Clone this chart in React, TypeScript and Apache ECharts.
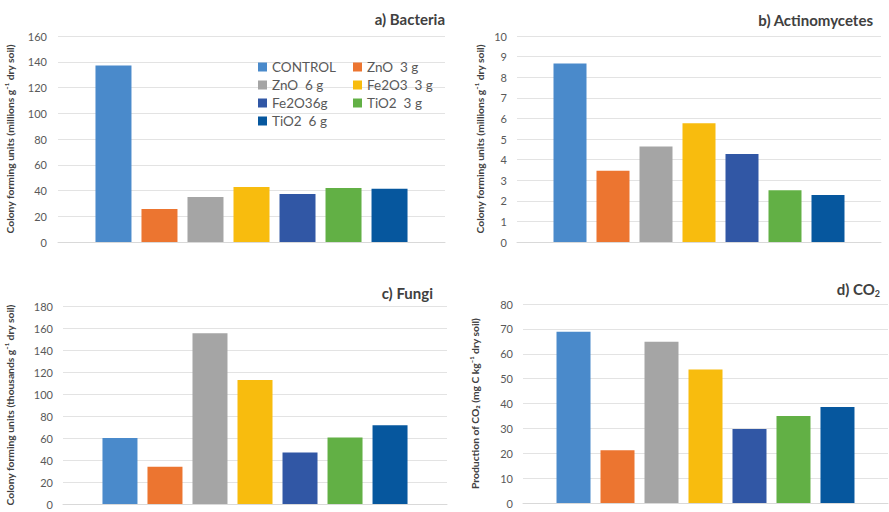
import React, { useEffect, useRef } from "react";
import * as echarts from "echarts";

const seriesNames = ["CONTROL", "ZnO  3 g", "ZnO  6 g", "Fe2O3  3 g", "Fe2O36g", "TiO2  3 g", "TiO2  6 g"];
const colors = ["#4A8ACB", "#EC7530", "#A5A5A5", "#F8BC0E", "#3157A5", "#62B045", "#06579E"];

const bacteria = [137, 25.6, 34.9, 42.7, 37.3, 41.9, 41.4];
const actinomycetes = [8.67, 3.46, 4.63, 5.76, 4.27, 2.51, 2.28];
const fungi = [60, 33.9, 155.2, 112.8, 46.8, 60.5, 71.7];
const co2 = [68.8, 21.2, 64.8, 53.7, 29.7, 35.0, 38.6];

const yMax = [160, 10, 180, 80];
const yInterval = [20, 1, 20, 10];
const yNames = [
  "Colony forming units (millions g\u207B\u00B9 dry soil)",
  "Colony forming units (millions g\u207B\u00B9 dry soil)",
  "Colony forming units (thousands g\u207B\u00B9 dry soil)",
  "Production of CO\u2082 (mg C kg\u207B\u00B9 dry soil)",
];
const panelTitles = ["a) Bacteria", "b) Actinomycetes", "c) Fungi", "d) CO"];

const FONT = "Lato, 'Open Sans', sans-serif";

export default function App() {
  const ref = useRef<HTMLDivElement>(null);
  useEffect(() => {
    if (!ref.current) return;
    const chart = echarts.init(ref.current, null, { renderer: "svg" });
    const allValues = [bacteria, actinomycetes, fungi, co2];
    const grids = [
      { left: 58, top: 36, width: 387, height: 206 },
      { left: 517, top: 36, width: 364, height: 206 },
      { left: 63, top: 306, width: 384, height: 198 },
      { left: 523, top: 304, width: 365, height: 199 },
    ];
    const barW = [36, 33, 35, 34];
    const nameGaps = [43, 32, 48, 43];
    const labelMargins = [11, 10, 10, 10];

    const xAxis = grids.map((_, i) => ({
      type: "category",
      gridIndex: i,
      data: [""],
      axisLine: { show: true, lineStyle: { color: "#D9D9D9", width: 1 } },
      axisTick: { show: false },
      axisLabel: { show: false },
    }));
    const yAxis = grids.map((_, i) => ({
      type: "value",
      gridIndex: i,
      min: 0,
      max: yMax[i],
      interval: yInterval[i],
      axisLine: { show: false },
      axisTick: { show: false },
      splitLine: { lineStyle: { color: "#E3E3E3", width: 1 } },
      axisLabel: { color: "#595959", fontSize: 11, fontFamily: FONT, margin: labelMargins[i] },
      name: yNames[i],
      nameLocation: "middle",
      nameRotate: 90,
      nameGap: nameGaps[i],
      nameTextStyle: { color: "#404040", fontSize: 10.3, fontWeight: "bold", fontFamily: FONT },
    }));
    const series: any[] = [];
    allValues.forEach((vals, i) => {
      vals.forEach((v, j) => {
        series.push({
          type: "bar",
          name: seriesNames[j],
          xAxisIndex: i,
          yAxisIndex: i,
          data: [v],
          barWidth: barW[i],
          barGap: ((10 / barW[i]) * 100).toFixed(1) + "%",
          itemStyle: { color: colors[j] },
        });
      });
    });

    const titleStyle = { fill: "#404040", font: `bold 15px ${FONT}`, textAlign: "right", textVerticalAlign: "middle" };
    const graphic = [
      { type: "text", x: 445, y: 19, style: { ...titleStyle, text: panelTitles[0] } },
      { type: "text", x: 873, y: 20, style: { ...titleStyle, text: panelTitles[1] } },
      { type: "text", x: 433, y: 293, style: { ...titleStyle, text: panelTitles[2] } },
      {
        type: "text",
        x: 880,
        y: 289,
        style: {
          text: "{a|" + panelTitles[3] + "}{s|2}",
          textAlign: "right",
          textVerticalAlign: "middle",
          rich: {
            a: { fontSize: 15, fontWeight: "bold", fontFamily: FONT, fill: "#404040", color: "#404040" },
            s: { fontSize: 9, fontWeight: "bold", fontFamily: FONT, fill: "#404040", color: "#404040", verticalAlign: "bottom", padding: [8, 0, 0, 0] },
          },
        },
      },
    ];

    const legendCommon = {
      orient: "vertical",
      itemWidth: 9,
      itemHeight: 9,
      itemGap: 4,
      icon: "rect",
      textStyle: { color: "#595959", fontSize: 13.5, fontFamily: FONT, height: 14, lineHeight: 14 },
    };
    chart.setOption({
      animation: false,
      backgroundColor: "#FFFFFF",
      grid: grids,
      xAxis,
      yAxis,
      series,
      graphic,
      legend: [
        { ...legendCommon, left: 253, top: 55, data: [seriesNames[0], seriesNames[2], seriesNames[4], seriesNames[6]] },
        { ...legendCommon, left: 348, top: 55, data: [seriesNames[1], seriesNames[3], seriesNames[5]] },
      ],
    });
    return () => chart.dispose();
  }, []);
  return <div ref={ref} style={{ position: "fixed", left: 0, top: 0, width: 889, height: 512 }} />;
}
